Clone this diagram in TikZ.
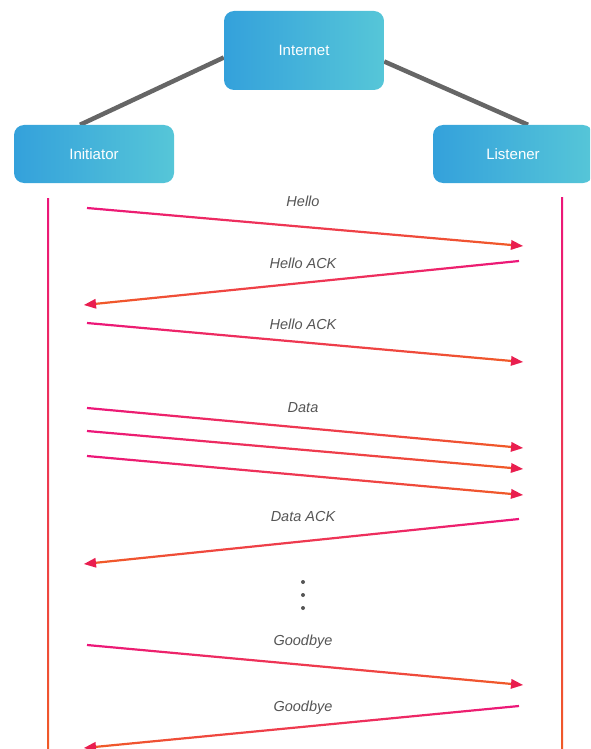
\documentclass[tikz,border=0pt]{standalone}
\usepackage{fontspec}
\setmainfont{Liberation Sans}
\usetikzlibrary{calc,backgrounds}

\definecolor{boxleft}{HTML}{34A1DB}
\definecolor{boxright}{HTML}{56C6D8}
\definecolor{linkgray}{HTML}{666666}
\definecolor{msgpink}{HTML}{EC167A}
\definecolor{msgorange}{HTML}{F05A28}
\definecolor{msgtip}{HTML}{E91E4F}
\definecolor{labelgray}{HTML}{555555}

\tikzset{
  peer/.style={rounded corners=10pt, left color=boxleft, right color=boxright,
    minimum width=160pt, minimum height=58pt, inner sep=0pt,
    text=white, font=\fontsize{15}{18}\selectfont},
  link/.style={draw=linkgray, line width=4.5pt},
  msgR/.style={left color=msgpink, right color=msgorange},
  msgL/.style={left color=msgorange, right color=msgpink},
  msglabel/.style={text=labelgray, font=\fontsize{14.5}{17}\selectfont\itshape, inner sep=0.75pt},
}

% shaded message line with its head: style, from, to
\newcommand{\msgarrow}[3]{%
  \coordinate (tipbase) at ($(#3)!12pt!(#2)$);
  \shade[#1] ($(#2)!1.1pt!90:(tipbase)$) -- ($(tipbase)!1.1pt!-90:(#2)$) -- ($(tipbase)!1.1pt!90:(#2)$) -- ($(#2)!1.1pt!-90:(tipbase)$) -- cycle;
  \fill[msgtip] (#3) -- ($(tipbase)!5pt!90:(#3)$) -- ($(tipbase)!5pt!-90:(#3)$) -- cycle;
}

\begin{document}
\begin{tikzpicture}[x=1pt,y=-1pt]
\useasboundingbox (0,0) rectangle (590,749);
\begin{scope}
\clip (0,0) rectangle (590,749);

% Nodes
\node[peer, minimum height=79pt] (inet) at (304,50.5) {Internet};
\node[peer] (init) at (94,154) {Initiator};
\node[peer] (listen) at (513,154) {Listener};

%Straight Lines
\begin{scope}[on background layer]
\draw[link] ($(init.north)+(-14,0)$) -- ($(inet.west)+(0,7)$);
\draw[link] ($(inet.east)+(0,11)$) -- ($(listen.north)+(15,0)$);
\end{scope}

% Lifelines
\shade[top color=msgpink, bottom color=msgorange] (47,198) rectangle (49,749);
\shade[top color=msgpink, bottom color=msgorange] (561,197) rectangle (563,749);

% Message ends
\coordinate (hello-s) at (87,208);   \coordinate (hello-e) at (523,246);
\coordinate (ack1-s) at (519,261);   \coordinate (ack1-e) at (84,305);
\coordinate (ack2-s) at (87,323);    \coordinate (ack2-e) at (523,362);
\coordinate (data1-s) at (87,408);   \coordinate (data1-e) at (523,448);
\coordinate (data2-s) at (87,431);   \coordinate (data2-e) at (523,469);
\coordinate (data3-s) at (87,456);   \coordinate (data3-e) at (523,495);
\coordinate (dack-s) at (519,519);   \coordinate (dack-e) at (84,564);
\coordinate (bye1-s) at (87,645);    \coordinate (bye1-e) at (523,685);
\coordinate (bye2-s) at (519,706);   \coordinate (bye2-e) at (84,748);

% Messages
\msgarrow{msgR}{hello-s}{hello-e}
\msgarrow{msgL}{ack1-s}{ack1-e}
\msgarrow{msgR}{ack2-s}{ack2-e}
\msgarrow{msgR}{data1-s}{data1-e}
\msgarrow{msgR}{data2-s}{data2-e}
\msgarrow{msgR}{data3-s}{data3-e}
\msgarrow{msgL}{dack-s}{dack-e}
\msgarrow{msgR}{bye1-s}{bye1-e}
\msgarrow{msgL}{bye2-s}{bye2-e}

% Text Node
\node[msglabel] (l-hello) at (303,201) {Hello};
\node[msglabel] (l-ack1) at (303,263) {Hello ACK};
\node[msglabel] (l-ack2) at (303,324) {Hello ACK};
\node[msglabel] (l-data) at (303,408) {Data};
\node[msglabel] (l-dack) at (303,517) {Data ACK};
\node[msglabel] (l-bye1) at (303,642) {Goodbye};
\node[msglabel] (l-bye2) at (303,708) {Goodbye};

% Dots
\foreach \y in {582,595,608}
  \fill[labelgray] (303,\y) circle (2);
\end{scope}
\end{tikzpicture}
\end{document}
